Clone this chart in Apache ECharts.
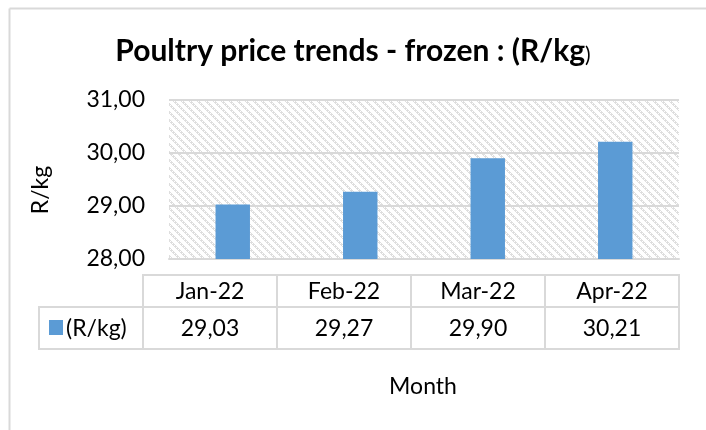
<!DOCTYPE html>
<html>
<head>
<meta charset="utf-8">
<script src="https://cdn.jsdelivr.net/npm/echarts@6/dist/echarts.min.js"></script>
<style>
html,body{margin:0;padding:0;background:#fff;}
#chart{width:706px;height:430px;}
</style>
</head>
<body>
<div id="chart"></div>
<script>
var categories = ['Jan-22', 'Feb-22', 'Mar-22', 'Apr-22'];
var seriesName = '(R/kg)';
var values = [29.03, 29.27, 29.90, 30.21];
var yTicks = [28, 29, 30, 31];

var FONT = 'Lato, "Open Sans", sans-serif';
var BAR = '#5B9BD5';
var LINE = '#d9d9d9';
var FS = 23;

function fmt(v){ return v.toFixed(2).replace('.', ','); }

// hatch pattern (wide downward diagonal, fine dotted look)
var tile = document.createElement('canvas');
tile.width = 8; tile.height = 8;
var tctx = tile.getContext('2d');
tctx.fillStyle = '#ffffff';
tctx.fillRect(0,0,8,8);
tctx.fillStyle = '#dedede';
for (var y=0; y<8; y++) for (var x=0; x<8; x++) {
  var d = ((x - y) % 8 + 8) % 8;
  if (d < 3 && ((x + y) % 4 !== 3)) tctx.fillRect(x,y,1,1);
}

// table layout
var tX0 = 143, colW = 134, hY = 275, hH = 32, vY = 307, vH = 42, legX = 39;
var graphics = [];
graphics.push({type:'line', shape:{x1:9.5,y1:8.5,x2:706,y2:8.5}, style:{stroke:LINE,lineWidth:2}});
graphics.push({type:'line', shape:{x1:9.5,y1:8.5,x2:9.5,y2:430}, style:{stroke:LINE,lineWidth:2}});
graphics.push({type:'rect', shape:{x:legX,y:vY,width:tX0-legX,height:vH}, style:{fill:'none',stroke:LINE,lineWidth:2}});
graphics.push({type:'rect', shape:{x:49,y:320,width:14,height:15}, style:{fill:BAR}});
graphics.push({type:'text', x:66, y:vY+vH/2+1, style:{text:seriesName, font:FS+'px '+FONT, fill:'#000', textAlign:'left', textVerticalAlign:'middle'}});
categories.forEach(function(c,i){
  var x = tX0 + i*colW;
  graphics.push({type:'rect', shape:{x:x,y:hY,width:colW,height:hH}, style:{fill:'none',stroke:LINE,lineWidth:2}});
  graphics.push({type:'rect', shape:{x:x,y:vY,width:colW,height:vH}, style:{fill:'none',stroke:LINE,lineWidth:2}});
  graphics.push({type:'text', x:x+colW/2, y:hY+hH/2+1, style:{text:c, font:FS+'px '+FONT, fill:'#000', textAlign:'center', textVerticalAlign:'middle'}});
  graphics.push({type:'text', x:x+colW/2, y:vY+vH/2+1, style:{text:fmt(values[i]), font:FS+'px '+FONT, fill:'#000', textAlign:'center', textVerticalAlign:'middle'}});
});
graphics.push({type:'text', x:423, y:387, style:{text:'Month', font:FS+'px '+FONT, fill:'#000', textAlign:'center', textVerticalAlign:'middle'}});
graphics.push({type:'text', x:41, y:190, rotation:Math.PI/2, style:{text:'R/kg', font:FS+'px '+FONT, fill:'#000', textAlign:'center', textVerticalAlign:'middle'}});

var chart = echarts.init(document.getElementById('chart'), null, {renderer:'canvas'});
chart.setOption({
  animation:false,
  backgroundColor:'#fff',
  title:{
    text:'{b|Poultry price trends - frozen : (R/kg}{n|)}',
    left:'center', top:31,
    textStyle:{rich:{
      b:{fontFamily:FONT, fontWeight:'bold', fontSize:30, color:'#000'},
      n:{fontFamily:FONT, fontWeight:'normal', fontSize:21, color:'#000', verticalAlign:'bottom'}
    }}
  },
  grid:{left:169, right:27, top:100, bottom:171, show:true, borderWidth:0,
    backgroundColor:{image:tile, repeat:'repeat'}},
  xAxis:{type:'category', data:categories,
    axisLine:{lineStyle:{color:LINE,width:2}}, axisTick:{show:false}, axisLabel:{show:false}},
  yAxis:{type:'value', min:yTicks[0], max:yTicks[yTicks.length-1], interval:1,
    axisLine:{show:false}, axisTick:{show:false},
    splitLine:{lineStyle:{color:LINE,width:2}},
    axisLabel:{formatter:function(v){return fmt(v);}, fontFamily:FONT, fontSize:FS, color:'#000', margin:24}},
  series:[{type:'bar', name:seriesName, data:values, barWidth:'27%', itemStyle:{color:BAR}}],
  graphic:graphics
});
</script>
</body>
</html>
